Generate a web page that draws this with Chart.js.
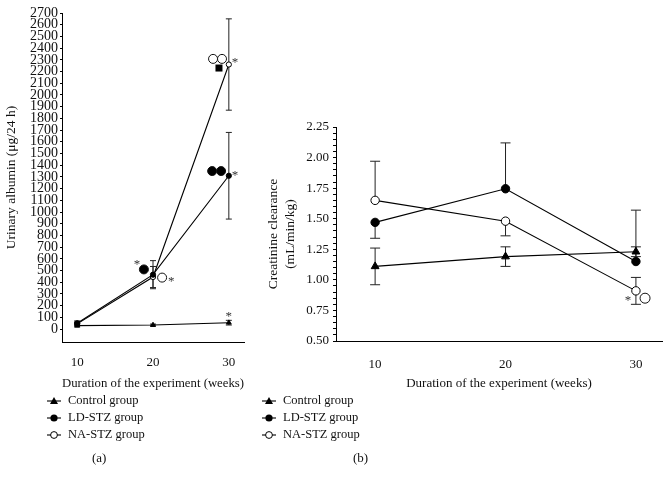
<!DOCTYPE html>
<html>
<head>
<meta charset="utf-8">
<script src="https://cdn.jsdelivr.net/npm/chart.js@4.4.1/dist/chart.umd.min.js"></script>
<style>
  body { margin: 0; background: #fff; width: 670px; height: 485px; position: relative; overflow: hidden; font-family: "Liberation Serif", serif; color: #111; }
  canvas { position: absolute; top: 0; }
  #chartA { left: 0; }
  #chartB { left: 255px; }
  .legend { position: absolute; top: 392px; font-size: 12.5px; line-height: 17px; }
  .legend div { display: flex; align-items: center; height: 17px; }
  .legend svg { margin-right: 6px; }
  .panel { position: absolute; top: 450px; font-size: 13px; }
</style>
</head>
<body>
<canvas id="chartA" width="260" height="395"></canvas>
<canvas id="chartB" width="415" height="395"></canvas>

<div class="legend" id="legA" style="left:47px"></div>
<div class="legend" id="legB" style="left:262px"></div>
<div class="panel" style="left:92px">(a)</div>
<div class="panel" style="left:353px">(b)</div>

<script>
const weeks = [10, 20, 30];
const groups = ["Control group", "LD-STZ group", "NA-STZ group"];

// (a) urinary albumin, µg/24 h
const albControl = [30, 35, 55];
const albLD = [50, 465, 1310];
const albNA = [45, 445, 2260];
const albControlErr = [12, 8, 20];
const albLDErr = [20, 120, 370];
const albNAErr = [15, 90, 390];
const albTicks = [0, 100, 200, 300, 400, 500, 600, 700, 800, 900, 1000, 1100, 1200, 1300,
  1400, 1500, 1600, 1700, 1800, 1900, 2000, 2100, 2200, 2300, 2400, 2500, 2600, 2700];

// (b) creatinine clearance, mL/min/kg
const ccControl = [1.11, 1.19, 1.23];
const ccLD = [1.47, 1.745, 1.15];
const ccNA = [1.65, 1.48, 0.91];
const ccControlUp = [0.15, 0.08, 0.04];
const ccControlDown = [0.15, 0.08, 0.04];
const ccLDUp = [0, 0.375, 0.42];
const ccLDDown = [0.13, 0, 0];
const ccNAUp = [0.32, 0, 0.11];
const ccNADown = [0, 0.12, 0.11];
const ccTicks = [0.5, 0.75, 1.0, 1.25, 1.5, 1.75, 2.0, 2.25];

// significance marks: [x, y, kind]
const albMarks = [
  [27.92, 2308, "open"], [29.1, 2308, "open"], [30.8, 2300, "star"], [28.7, 2230, "square"],
  [27.8, 1350, "filled"], [28.98, 1350, "filled"], [30.8, 1335, "star"],
  [17.9, 575, "star"], [18.8, 510, "filled"], [21.2, 440, "open"], [22.4, 425, "star"],
  [30.0, 125, "star"]
];
const ccMarks = [[29.4, 0.85, "star"], [30.7, 0.85, "open"]];

const FONT = "'Liberation Serif', serif";

const pts = vals => vals.map((v, i) => ({ x: weeks[i], y: v }));

function series(label, vals, style, fill, r, up, down) {
  return {
    label, data: pts(vals), showLine: true,
    borderColor: "#000", borderWidth: 1.1,
    pointStyle: style, pointRadius: r, pointHoverRadius: r,
    pointBackgroundColor: fill, pointBorderColor: "#000", pointBorderWidth: 1,
    errUp: up, errDown: down
  };
}

const errorBars = {
  id: "errorBars",
  beforeDatasetsDraw(chart, args, opts) {
    const { ctx, scales: { x, y } } = chart;
    ctx.save();
    ctx.strokeStyle = "#222";
    ctx.lineWidth = 1;
    chart.data.datasets.forEach(ds => {
      ds.data.forEach((p, i) => {
        const px = x.getPixelForValue(p.x);
        const top = y.getPixelForValue(p.y + ds.errUp[i]);
        const bot = y.getPixelForValue(p.y - ds.errDown[i]);
        ctx.beginPath();
        ctx.moveTo(px, top); ctx.lineTo(px, bot);
        if (ds.errUp[i]) { ctx.moveTo(px - opts.cap, top); ctx.lineTo(px + opts.cap, top); }
        if (ds.errDown[i]) { ctx.moveTo(px - opts.cap, bot); ctx.lineTo(px + opts.cap, bot); }
        ctx.stroke();
      });
    });
    ctx.restore();
  }
};

const marks = {
  id: "marks",
  afterDatasetsDraw(chart, args, opts) {
    const { ctx, scales: { x, y } } = chart;
    ctx.save();
    opts.list.forEach(([vx, vy, kind]) => {
      const px = x.getPixelForValue(vx), py = y.getPixelForValue(vy);
      ctx.lineWidth = 1;
      ctx.strokeStyle = "#111";
      if (kind === "star") {
        ctx.fillStyle = "#333";
        ctx.font = "13px " + FONT;
        ctx.textAlign = "center";
        ctx.textBaseline = "alphabetic";
        ctx.fillText("*", px, py + 6);
      } else if (kind === "square") {
        ctx.fillStyle = "#000";
        ctx.fillRect(px - 3.5, py - 3.5, 7, 7);
      } else {
        ctx.beginPath();
        ctx.arc(px, py, opts.r, 0, Math.PI * 2);
        ctx.fillStyle = kind === "filled" ? "#000" : "#fff";
        ctx.fill();
        ctx.stroke();
      }
    });
    ctx.restore();
  }
};

function axisOpts(extra) {
  return Object.assign({
    type: "linear",
    border: { display: true, color: "#000", width: 1 },
    ticks: { color: "#111", font: { family: FONT, size: 13 }, autoSkip: false }
  }, extra);
}

new Chart(document.getElementById("chartA"), {
  type: "line",
  data: {
    datasets: [
      series(groups[0], albControl, "triangle", "#000", 2.8, albControlErr, albControlErr),
      series(groups[1], albLD, "circle", "#000", 2.6, albLDErr, albLDErr),
      series(groups[2], albNA, "circle", "#fff", 2.6, albNAErr, albNAErr)
    ]
  },
  options: {
    responsive: false, animation: false,
    layout: { padding: { top: 13, right: 16, left: 0, bottom: 0 } },
    plugins: { legend: { display: false }, tooltip: { enabled: false },
      errorBars: { cap: 3 }, marks: { list: albMarks, r: 4.5 } },
    scales: {
      x: axisOpts({
        min: 8, max: 32,
        grid: { display: false },
        afterBuildTicks: s => { s.ticks = weeks.map(v => ({ value: v })); },
        afterFit: s => { s.height = 53; },
        ticks: { color: "#111", font: { family: FONT, size: 13 }, padding: 5 },
        title: { display: true, text: "Duration of the experiment (weeks)", color: "#111",
          font: { family: FONT, size: 13 }, padding: { top: 3 } }
      }),
      y: axisOpts({
        min: -110, max: 2700,
        grid: { display: true, drawOnChartArea: false, color: "#000", tickLength: 2 },
        afterBuildTicks: s => { s.ticks = albTicks.map(v => ({ value: v })); },
        afterFit: s => { s.width = 62; },
        ticks: { color: "#111", font: { family: FONT, size: 14 }, padding: 2, autoSkip: false,
          callback: v => String(v) },
        title: { display: true, text: "Urinary albumin (\u03bcg/24 h)", color: "#111",
          font: { family: FONT, size: 13.5 }, padding: { top: 3, bottom: 0 } }
      })
    }
  },
  plugins: [errorBars, marks]
});

new Chart(document.getElementById("chartB"), {
  type: "line",
  data: {
    datasets: [
      series(groups[0], ccControl, "triangle", "#000", 4.5, ccControlUp, ccControlDown),
      series(groups[1], ccLD, "circle", "#000", 4.2, ccLDUp, ccLDDown),
      series(groups[2], ccNA, "circle", "#fff", 4.2, ccNAUp, ccNADown)
    ]
  },
  options: {
    responsive: false, animation: false,
    layout: { padding: { top: 127, right: 8, left: 0, bottom: 0 } },
    plugins: { legend: { display: false }, tooltip: { enabled: false },
      errorBars: { cap: 5 }, marks: { list: ccMarks, r: 5 } },
    scales: {
      x: axisOpts({
        min: 7, max: 32,
        grid: { display: false },
        afterBuildTicks: s => { s.ticks = weeks.map(v => ({ value: v })); },
        afterFit: s => { s.height = 54; },
        ticks: { color: "#111", font: { family: FONT, size: 13 }, padding: 8 },
        title: { display: true, text: "Duration of the experiment (weeks)", color: "#111",
          font: { family: FONT, size: 13 }, padding: { top: 1 } }
      }),
      y: axisOpts({
        min: 0.5, max: 2.25,
        grid: { display: true, drawOnChartArea: false, color: "#000", tickLength: 3 },
        afterBuildTicks: s => {
          const out = [];
          for (let i = 0; i <= 35; i++) out.push({ value: Math.round((0.5 + i * 0.05) * 100) / 100 });
          s.ticks = out;
        },
        afterFit: s => { s.width = 81; },
        ticks: {
          color: "#111", font: { family: FONT, size: 13 }, padding: 4, autoSkip: false,
          callback: v => ccTicks.some(t => Math.abs(t - v) < 1e-6) ? v.toFixed(2) : ""
        },
        title: { display: true, text: ["Creatinine clearance", "(mL/min/kg)"], color: "#111",
          font: { family: FONT, size: 13.5, lineHeight: 1.25 }, padding: { top: 10, bottom: 0 } }
      })
    }
  },
  plugins: [errorBars, marks]
});

// legends
const symbols = [
  '<polygon points="7,2 11,9 3,9" fill="#000"/>',
  '<circle cx="7" cy="6" r="3.6" fill="#000"/>',
  '<circle cx="7" cy="6" r="3.4" fill="#fff" stroke="#000" stroke-width="1"/>'
];
["legA", "legB"].forEach(id => {
  document.getElementById(id).innerHTML = groups.map((g, i) =>
    '<div><svg width="15" height="12"><line x1="0" y1="6" x2="14" y2="6" stroke="#000" stroke-width="1.1"/>' +
    symbols[i] + '</svg>' + g + '</div>').join("");
});
</script>
</body>
</html>
